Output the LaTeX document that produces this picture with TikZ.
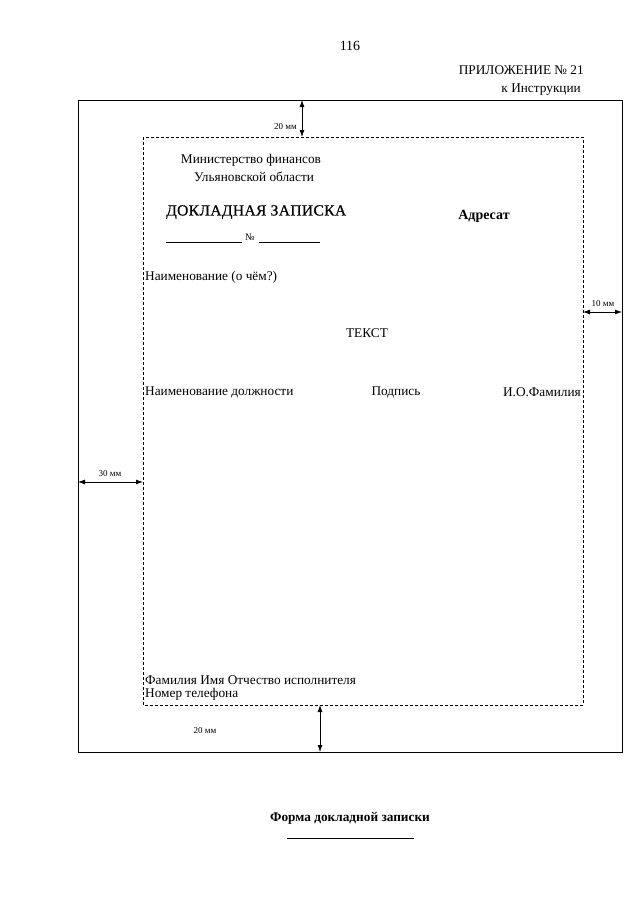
\documentclass[tikz,border=0pt]{standalone}
\usepackage{fontspec}
\setmainfont{Liberation Serif}
\usetikzlibrary{arrows.meta}
\begin{document}
\begin{tikzpicture}[x=1pt,y=-1pt,
  txt/.style={inner sep=0pt,font=\fontsize{13.3}{15}\selectfont},
  small/.style={inner sep=0pt,font=\fontsize{9}{11}\selectfont},
  dim/.style={{Latex[length=7pt,width=5pt]}-{Latex[length=7pt,width=5pt]},line width=0.8pt},
  outer/.style={line width=1pt},
  inner/.style={dashed,dash pattern=on 3pt off 2pt,line width=0.6pt}]
\useasboundingbox (0,0) rectangle (640,905);
% frames
\draw[outer] (78,100) rectangle (622,752);
\draw[inner] (143,137) rectangle (583,705);
% named points for dimension arrows
\coordinate (t1) at (302,100); \coordinate (t2) at (302,137);
\coordinate (r1) at (583,312); \coordinate (r2) at (622,312);
\coordinate (l1) at (78,482); \coordinate (l2) at (143,482);
\coordinate (b1) at (320,705); \coordinate (b2) at (320,752);
\draw[dim] (t1) -- (t2);
\draw[dim] (r1) -- (r2);
\draw[dim] (l1) -- (l2);
\draw[dim] (b1) -- (b2);
\node[small,anchor=east] (dt) at (297,127) {20 мм};
\node[small,anchor=south] (dr) at (603,307) {10 мм};
\node[small,anchor=south] (dl) at (110,477) {30 мм};
\node[small] (db) at (205,731) {20 мм};
% header
\node[txt,font=\fontsize{14}{16}\selectfont] (pg) at (350,46) {116};
\node[txt,anchor=east] (pr) at (584,70) {ПРИЛОЖЕНИЕ № 21};
\node[txt,anchor=east] (ki) at (581,90) {к Инструкции};
% body
\node[txt] (m1) at (251,160) {Министерство финансов};
\node[txt] (m2) at (254,177) {Ульяновской области};
\node[txt,anchor=west,font=\fontsize{15.5}{17}\selectfont\addfontfeature{LetterSpace=2.5,FakeBold=0.6}] (dz) at (166,212) {ДОКЛАДНАЯ ЗАПИСКА};
\node[txt,font=\bfseries\fontsize{14}{16}\selectfont] (ad) at (484,216) {Адресат};
\coordinate (n1a) at (166,242); \coordinate (n1b) at (242,242);
\coordinate (n2a) at (259,242); \coordinate (n2b) at (320,242);
\draw[line width=0.6pt] (n1a) -- (n1b);
\draw[line width=0.6pt] (n2a) -- (n2b);
\node[txt,font=\fontsize{10}{12}\selectfont] (no) at (250,237) {№};
\node[txt,anchor=west] (nm) at (145,277) {Наименование (о чём?)};
\node[txt] (tx) at (367,333) {ТЕКСТ};
\node[txt,anchor=west] (dol) at (145,392) {Наименование должности};
\node[txt] (pod) at (396,392) {Подпись};
\node[txt,anchor=east] (fio) at (581,392) {И.О.Фамилия};
\node[txt,anchor=west] (isp) at (145,680) {Фамилия Имя Отчество исполнителя};
\node[txt,anchor=west] (tel) at (145,694) {Номер телефона};
% footer
\node[txt,font=\bfseries\fontsize{13.3}{15}\selectfont] (fm) at (350,818) {Форма докладной записки};
\coordinate (u1) at (287,838); \coordinate (u2) at (414,838);
\draw[line width=1pt] (u1) -- (u2);
\end{tikzpicture}
\end{document}
